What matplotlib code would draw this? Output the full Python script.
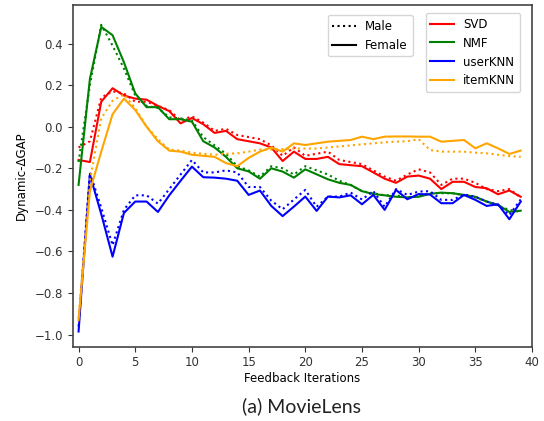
import matplotlib
matplotlib.use("Agg")
import matplotlib.pyplot as plt
from matplotlib.lines import Line2D

iterations = list(range(40))

svd_female = [-0.16, -0.17, 0.12, 0.185, 0.15, 0.135, 0.13, 0.10, 0.075, 0.016,
              0.042, 0.012, -0.03, -0.02, -0.06, -0.07, -0.08, -0.10, -0.165, -0.12,
              -0.155, -0.155, -0.145, -0.18, -0.185, -0.19, -0.22, -0.25, -0.27, -0.24,
              -0.235, -0.25, -0.30, -0.265, -0.265, -0.29, -0.296, -0.325, -0.307, -0.337]
svd_male = [-0.10, -0.07, 0.14, 0.17, 0.16, 0.12, 0.12, 0.10, 0.08, 0.03,
            0.05, 0.02, -0.02, -0.01, -0.04, -0.05, -0.06, -0.09, -0.14, -0.10,
            -0.14, -0.13, -0.12, -0.16, -0.17, -0.18, -0.21, -0.24, -0.26, -0.23,
            -0.205, -0.22, -0.28, -0.25, -0.25, -0.27, -0.30, -0.31, -0.30, -0.34]
nmf_female = [-0.28, 0.23, 0.48, 0.44, 0.31, 0.16, 0.094, 0.094, 0.036, 0.036,
              0.024, -0.07, -0.10, -0.145, -0.20, -0.215, -0.25, -0.20, -0.216, -0.245,
              -0.205, -0.229, -0.253, -0.27, -0.28, -0.31, -0.324, -0.33, -0.337, -0.34,
              -0.337, -0.323, -0.317, -0.32, -0.328, -0.337, -0.36, -0.376, -0.41, -0.404]
nmf_male = [-0.17, 0.20, 0.49, 0.39, 0.28, 0.15, 0.10, 0.09, 0.045, 0.04,
            0.03, -0.05, -0.09, -0.13, -0.19, -0.21, -0.24, -0.19, -0.20, -0.23,
            -0.19, -0.21, -0.23, -0.26, -0.28, -0.31, -0.32, -0.33, -0.33, -0.34,
            -0.33, -0.32, -0.32, -0.32, -0.33, -0.34, -0.36, -0.38, -0.40, -0.41]
userknn_female = [-0.985, -0.23, -0.42, -0.625, -0.415, -0.36, -0.36, -0.41, -0.33, -0.26,
                  -0.192, -0.243, -0.245, -0.25, -0.26, -0.328, -0.307, -0.381, -0.43, -0.384,
                  -0.336, -0.405, -0.336, -0.34, -0.33, -0.373, -0.328, -0.40, -0.304, -0.349,
                  -0.324, -0.326, -0.368, -0.368, -0.328, -0.352, -0.381, -0.373, -0.445, -0.36]
userknn_male = [-0.96, -0.22, -0.39, -0.57, -0.40, -0.33, -0.33, -0.37, -0.30, -0.23,
                -0.16, -0.22, -0.22, -0.21, -0.22, -0.29, -0.29, -0.356, -0.397, -0.35,
                -0.304, -0.385, -0.336, -0.336, -0.317, -0.35, -0.31, -0.385, -0.30, -0.328,
                -0.312, -0.31, -0.352, -0.352, -0.326, -0.337, -0.36, -0.376, -0.425, -0.35]
itemknn_female = [-0.93, -0.31, -0.12, 0.06, 0.135, 0.08, 0.0, -0.07, -0.115, -0.12,
                  -0.135, -0.14, -0.145, -0.175, -0.19, -0.15, -0.12, -0.10, -0.12, -0.08,
                  -0.088, -0.08, -0.072, -0.068, -0.064, -0.048, -0.06, -0.048, -0.047, -0.047,
                  -0.048, -0.048, -0.072, -0.068, -0.064, -0.104, -0.08, -0.104, -0.131, -0.115]
itemknn_male = [-0.92, -0.26, 0.04, 0.125, 0.155, 0.09, 0.0, -0.06, -0.11, -0.115,
                -0.125, -0.13, -0.135, -0.13, -0.128, -0.12, -0.11, -0.11, -0.108, -0.105,
                -0.105, -0.105, -0.10, -0.095, -0.09, -0.085, -0.08, -0.075, -0.072, -0.07,
                -0.06, -0.112, -0.12, -0.12, -0.12, -0.125, -0.128, -0.135, -0.141, -0.145]

algorithms = ["SVD", "NMF", "userKNN", "itemKNN"]
colors = ["red", "green", "blue", "orange"]
male_series = [svd_male, nmf_male, userknn_male, itemknn_male]
female_series = [svd_female, nmf_female, userknn_female, itemknn_female]

plt.rcParams['font.family'] = ['DejaVu Sans']
plt.rcParams['font.size'] = 8.5

fig = plt.figure(figsize=(5.44, 4.21), dpi=100)
ax = fig.add_axes([0.134, 0.1765, 0.844, 0.8105])

for m, f, c in zip(male_series, female_series, colors):
    ax.plot(iterations, m, linestyle=':', color=c, linewidth=1.5)
    ax.plot(iterations, f, linestyle='-', color=c, linewidth=1.5)

ax.set_xlim(-0.5, 40)
ax.set_ylim(-1.058, 0.583)
ax.set_xticks([0, 5, 10, 15, 20, 25, 30, 35, 40])
ax.set_yticks([-1.0, -0.8, -0.6, -0.4, -0.2, 0.0, 0.2, 0.4])
ax.set_xlabel("Feedback Iterations", labelpad=2)
ax.set_ylabel("Dynamic-ΔGAP", labelpad=5)
for s in ax.spines.values():
    s.set_color('#444444')
    s.set_linewidth(1.2)
ax.tick_params(colors='#333333')

gender_handles = [Line2D([0], [0], color='black', linestyle=':', linewidth=1.5),
                  Line2D([0], [0], color='black', linestyle='-', linewidth=1.5)]
leg1 = ax.legend(gender_handles, ["Male", "Female"], loc='upper right',
                 bbox_to_anchor=(0.740, 0.972), borderaxespad=0)
ax.add_artist(leg1)
algo_handles = [Line2D([0], [0], color=c, linewidth=1.5) for c in colors]
ax.legend(algo_handles, algorithms, loc='upper right',
          bbox_to_anchor=(0.974, 0.978), borderaxespad=0)

fig.text(0.555, 0.036, "(a) MovieLens", ha='center', va='center',
         fontsize=14, family=['Lato', 'DejaVu Sans'], color='#222222')

fig.savefig("out.png", dpi=100)
